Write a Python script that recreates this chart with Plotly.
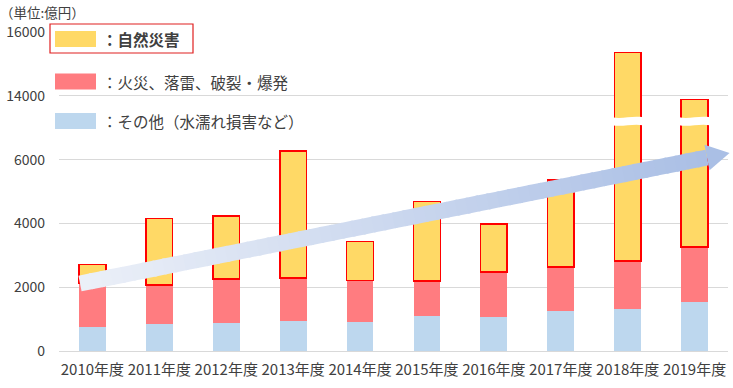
import math
import plotly.graph_objects as go

# ---------------- data (億円) ----------------
years = ["2010年度", "2011年度", "2012年度", "2013年度", "2014年度",
         "2015年度", "2016年度", "2017年度", "2018年度", "2019年度"]
other = [750, 835, 880, 940, 900, 1100, 1065, 1240, 1305, 1525]        # その他（水濡れ損害など）
fire = [1370, 1240, 1375, 1355, 1310, 1090, 1410, 1400, 1515, 1740]    # 火災、落雷、破裂・爆発
natural = [590, 2080, 1980, 3980, 1230, 2490, 1500, 2720, 12535, 10625]  # 自然災害
tick_values = [0, 2000, 4000, 6000, 14000, 16000]
tick_labels = ["0", "2000", "4000", "6000", "14000", "16000"]

# broken axis: values above the break are shifted down by 6000
BREAK_SHIFT = 6000
BREAK_FROM = 8000


def disp(v):
    return v - BREAK_SHIFT if v > BREAK_FROM else v


xs = list(range(len(years)))
base = [o + f for o, f in zip(other, fire)]
totals = [b + n for b, n in zip(base, natural)]
natural_disp = [disp(t) - b for b, t in zip(base, totals)]
tick_disp = [disp(v) for v in tick_values]

W, H = 733, 388
L, R, T, B = 59, 5, 32, 37
PW, PH = W - L - R, H - T - B

TXT = "#404040"
FONT = "Noto Sans CJK JP"

fig = go.Figure()
fig.add_bar(x=xs, y=other, name="その他", marker=dict(color="#bdd7ee", line=dict(width=0)))
fig.add_bar(x=xs, y=fire, name="火災", marker=dict(color="#ff7c80", line=dict(width=0)))
fig.add_bar(x=xs, y=natural_disp, name="自然災害",
            marker=dict(color="#ffd966", line=dict(color="#ff0000", width=1.5)))


def px(x):
    return (x - L) / PW


def py(y):
    return (H - B - y) / PH


shapes = []

# break marks on bars that cross the axis break
for i, tot in enumerate(totals):
    if tot > BREAK_FROM:
        x0, x1 = i - 0.23, i + 0.23
        w = x1 - x0
        yc, h, a = 7200, 250, 60
        yt, yb = yc + h / 2, yc - h / 2
        path = (f"M {x0},{yt} C {x0 + w/3},{yt - a} {x0 + 2*w/3},{yt + a} {x1},{yt} "
                f"L {x1},{yb} C {x0 + 2*w/3},{yb + a} {x0 + w/3},{yb - a} {x0},{yb} Z")
        shapes.append(dict(type="path", xref="x", yref="y", path=path,
                           fillcolor="white", line=dict(width=0), layer="above"))

# gradient trend arrow (decoration, pixel geometry)
Sx, Sy = 80.0, 283.5
Bx, By = 707.0, 157.5
dx, dy = Bx - Sx, By - Sy
ln = math.hypot(dx, dy)
ux, uy = dx / ln, dy / ln
nx, ny = -uy, ux
hw = 8.0
c0 = (236, 240, 248)
c1 = (170, 191, 229)
N = 60
for k in range(N):
    t0 = k / N
    t1 = min(1.0, (k + 1) / N + 0.004)
    ax, ay = Sx + dx * t0, Sy + dy * t0
    bx, by = Sx + dx * t1, Sy + dy * t1
    pts = [(ax + nx * hw, ay + ny * hw), (bx + nx * hw, by + ny * hw),
           (bx - nx * hw, by - ny * hw), (ax - nx * hw, ay - ny * hw)]
    tm = (k + 0.5) / N
    col = "rgb(%d,%d,%d)" % tuple(round(c0[j] + (c1[j] - c0[j]) * tm) for j in range(3))
    path = "M " + " L ".join(f"{px(p[0]):.5f},{py(p[1]):.5f}" for p in pts) + " Z"
    shapes.append(dict(type="path", xref="paper", yref="paper", path=path,
                       fillcolor=col, line=dict(width=0), layer="above"))
# arrow head
hh, hl = 13.0, 23.0
tip = (Bx + ux * hl, By + uy * hl)
head = [(Bx + nx * hh, By + ny * hh), tip, (Bx - nx * hh, By - ny * hh)]
path = "M " + " L ".join(f"{px(p[0]):.5f},{py(p[1]):.5f}" for p in head) + " Z"
shapes.append(dict(type="path", xref="paper", yref="paper", path=path,
                   fillcolor="rgb(%d,%d,%d)" % c1, line=dict(width=0), layer="above"))

# custom legend
shapes.append(dict(type="rect", xref="paper", yref="paper",
                   x0=px(50), x1=px(193), y0=py(53), y1=py(24),
                   fillcolor="white", line=dict(color="#e02020", width=1.2), layer="above"))
legend_items = [("#ffd966", "<b>：自然災害</b>", 39),
                ("#ff7c80", "：火災、落雷、破裂・爆発", 81.5),
                ("#bdd7ee", "：その他（水濡れ損害など）", 121)]
annotations = []
for col, txt, yc in legend_items:
    shapes.append(dict(type="rect", xref="paper", yref="paper",
                       x0=px(55), x1=px(96), y0=py(yc + 8), y1=py(yc - 8),
                       fillcolor=col, line=dict(width=0), layer="above"))
    annotations.append(dict(xref="paper", yref="paper", x=px(100), y=py(yc),
                            xanchor="left", yanchor="middle", showarrow=False,
                            text=txt, font=dict(family=FONT, size=15.5, color=TXT)))

annotations.append(dict(xref="paper", yref="paper", x=px(-2), y=py(12),
                        xanchor="left", yanchor="middle", showarrow=False,
                        text="（単位:億円）", font=dict(family=FONT, size=13.5, color=TXT)))

fig.update_layout(
    width=W, height=H,
    margin=dict(l=L, r=R, t=T, b=B, pad=0),
    barmode="stack", bargap=0.6,
    showlegend=False,
    plot_bgcolor="white", paper_bgcolor="white",
    font=dict(family=FONT, size=14, color=TXT),
    shapes=shapes, annotations=annotations,
    xaxis=dict(tickmode="array", tickvals=xs, ticktext=years,
               range=[-0.5, len(years) - 0.5], showgrid=False,
               showline=True, linecolor="#d9d9d9", linewidth=1,
               ticks="", ticklabelstandoff=5, tickfont=dict(size=15)),
    yaxis=dict(tickmode="array", tickvals=tick_disp, ticktext=tick_labels,
               range=[0, 10000], showgrid=True, gridcolor="#d9d9d9", gridwidth=1,
               zeroline=False, showline=False, ticks="",
               ticklabelstandoff=13, tickfont=dict(size=14)),
)

fig.write_html("out.html", config={"displayModeBar": False},
               post_script="document.body.style.margin='0';")
